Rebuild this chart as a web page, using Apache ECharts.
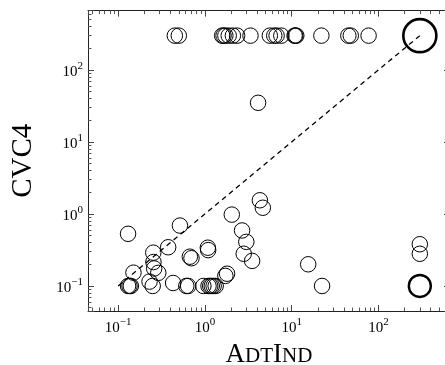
<!DOCTYPE html>
<html>
<head>
<meta charset="utf-8">
<script src="https://cdn.jsdelivr.net/npm/echarts@6/dist/echarts.min.js"></script>
<style>html,body{margin:0;padding:0;background:#fff;}#c{width:445px;height:365px;}</style>
</head>
<body>
<div id="c"></div>
<script>
// ---- data ----
const yAxisTitle = 'CVC4';
// points where CVC4 timed out (y = 300)
const timeoutY = 300;
const timeoutX = [0.45, 0.5, 1.58, 1.64, 1.72, 1.88, 2.1, 2.35, 3.35, 5.6, 6.3, 6.7, 7.6, 10.8, 11.0, 11.3, 22, 45, 48, 77];
// remaining points
const ptX = [0.13, 0.135, 0.14, 0.13, 0.15, 0.23, 0.25, 0.254, 0.255, 0.26, 0.29, 0.377, 0.43, 0.515, 0.61, 0.64, 0.67, 0.70, 0.96,
             1.08, 1.09, 1.1, 1.15, 1.2, 1.26, 1.33, 1.72, 1.8, 2.04, 2.68, 3.0, 2.8, 3.5, 4.1, 4.3, 4.65, 15.5, 22.4, 300, 300];
const ptY = [0.1, 0.1, 0.1, 0.53, 0.153, 0.115, 0.1, 0.29, 0.215, 0.175, 0.152, 0.345, 0.11, 0.69, 0.1, 0.1, 0.255, 0.243, 0.1,
             0.34, 0.315, 0.1, 0.1, 0.1, 0.1, 0.1, 0.138, 0.148, 0.98, 0.59, 0.41, 0.28, 0.223, 35, 1.55, 1.22, 0.2, 0.1, 0.38, 0.28];
// aggregated (large) markers
const bigTop = [300, 300];
const bigBottom = [300, 0.1];
// diagonal reference line
const diagX = [0.1, 300];
const diagY = [0.1, 300];
// axis extent (log)
const axisMin = 0.0449;
const axisMax = 668.2;

// ---- chart ----
const FONT = 'Liberation Serif';
function expLabel(v) {
  const e = Math.round(Math.log10(v));
  return '{b|10}{s|' + (e < 0 ? '\u2212' + (-e) : e) + '}';
}
const labelRich = {
  b: {fontFamily: FONT, fontSize: 15, color: '#000', lineHeight: 19, verticalAlign: 'bottom'},
  s: {fontFamily: FONT, fontSize: 11, color: '#000', lineHeight: 11, verticalAlign: 'top'}
};
function logAxis(pos, showLabel, extra) {
  return Object.assign({
    type: 'log', logBase: 10, position: pos, min: axisMin, max: axisMax,
    axisLine: {show: true, onZero: false, lineStyle: {color: '#222', width: 1}},
    axisTick: {show: true, inside: true, length: 6, lineStyle: {color: '#444', width: 1}},
    minorTick: {show: true, splitNumber: 9, length: 3.5, lineStyle: {color: '#555', width: 1}},
    splitLine: {show: false},
    minorSplitLine: {show: false},
    axisLabel: {show: showLabel, formatter: expLabel, rich: labelRich, showMinLabel: false, showMaxLabel: false}
  }, extra || {});
}

const hollow = {color: 'rgba(0,0,0,0)', borderColor: '#000', borderWidth: 1, opacity: 1};

const option = {
  animation: false,
  backgroundColor: '#fff',
  grid: {left: 88, right: -5, top: 10.6, bottom: 54, containLabel: false, outerBoundsMode: 'none'},
  xAxis: [
    logAxis('bottom', true, {
      name: '{a|A}{s|DT}{a|I}{s|ND}', nameLocation: 'middle', nameGap: 30,
      nameTextStyle: {rich: {
        a: {fontFamily: FONT, fontSize: 27, color: '#000'},
        s: {fontFamily: FONT, fontSize: 21, color: '#000', verticalAlign: 'bottom', padding: [0, 0, 1, 0]}
      }},
      axisLabel: {show: true, formatter: expLabel, rich: labelRich, margin: 6, showMinLabel: false, showMaxLabel: false}
    }),
    logAxis('top', false)
  ],
  yAxis: [
    logAxis('left', true, {
      name: yAxisTitle, nameLocation: 'middle', nameGap: 50,
      nameTextStyle: {fontFamily: FONT, fontSize: 29, color: '#000'},
      axisLabel: {show: true, formatter: expLabel, rich: labelRich, margin: 5, showMinLabel: false, showMaxLabel: false}
    }),
    logAxis('right', false)
  ],
  series: [
    {
      type: 'line', xAxisIndex: 0, yAxisIndex: 0, symbol: 'none', silent: true,
      data: diagX.map((x, i) => [x, diagY[i]]),
      lineStyle: {color: '#000', width: 1.3, type: [5, 4], opacity: 1}, z: 1
    },
    {
      type: 'scatter', symbol: 'circle', symbolSize: 15.5, itemStyle: hollow,
      data: timeoutX.map(x => [x, timeoutY]), z: 2
    },
    {
      type: 'scatter', symbol: 'circle', symbolSize: 15.5, itemStyle: hollow,
      data: ptX.map((x, i) => [x, ptY[i]]), z: 2
    },
    {
      type: 'scatter', symbol: 'circle', symbolSize: 33,
      itemStyle: {color: 'rgba(0,0,0,0)', borderColor: '#000', borderWidth: 2.6, opacity: 1},
      data: [bigTop], z: 3
    },
    {
      type: 'scatter', symbol: 'circle', symbolSize: 22,
      itemStyle: {color: 'rgba(0,0,0,0)', borderColor: '#000', borderWidth: 2.4, opacity: 1},
      data: [bigBottom], z: 3
    }
  ]
};
const chart = echarts.init(document.getElementById('c'), null, {renderer: 'canvas'});
chart.setOption(option);
</script>
</body>
</html>
